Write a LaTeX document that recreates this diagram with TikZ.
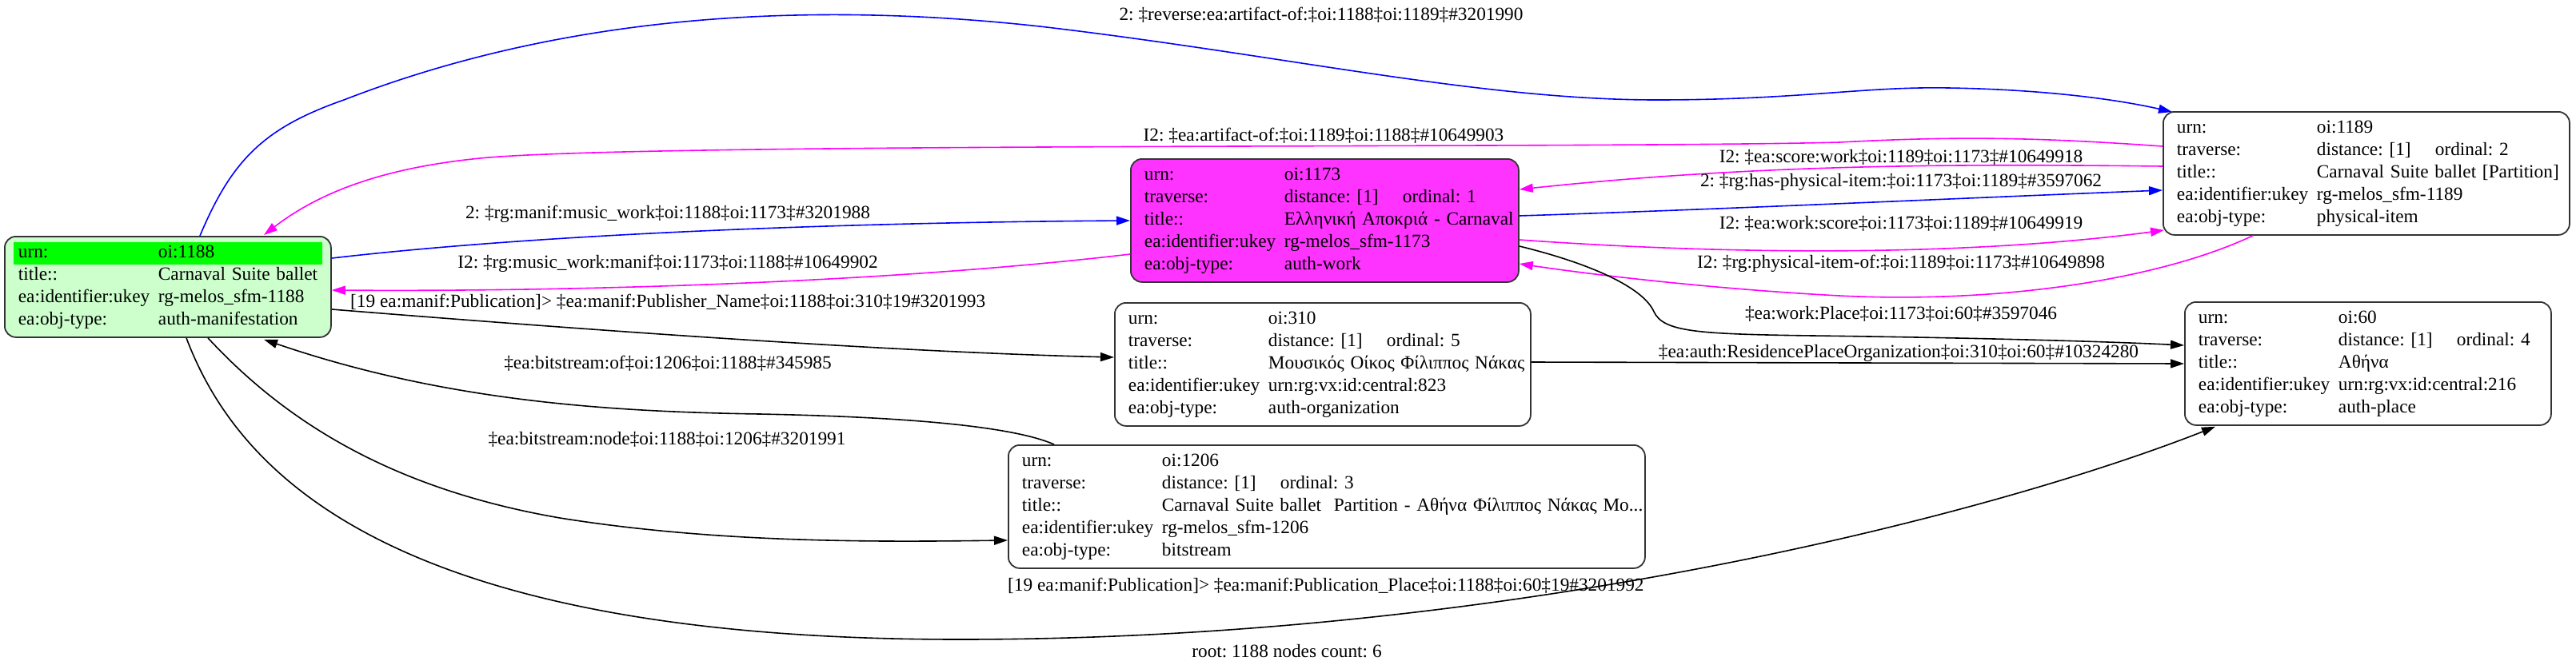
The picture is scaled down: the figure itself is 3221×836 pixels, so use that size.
\PassOptionsToPackage{table}{xcolor}
\documentclass[tikz,border=0pt]{standalone}
\usepackage{fontspec}
\setmainfont{Liberation Serif}
\usetikzlibrary{arrows.meta,calc}
\definecolor{mag}{HTML}{FF00FF}
\definecolor{blu}{HTML}{0000FF}
\definecolor{workfill}{HTML}{FF33FF}
\definecolor{manfill}{HTML}{CCFFCC}
\definecolor{hl}{HTML}{00FF00}
\frenchspacing
\newcommand{\fs}{\fontsize{23.3}{28}\selectfont\frenchspacing}
\newcommand{\dist}[1]{\makebox[148pt][l]{distance: [1]}ordinal: #1}
\begin{document}
\begin{tikzpicture}[x=1pt,y=-1pt,
  rec/.style={draw=black!80, line width=1.8pt, rounded corners=14pt, inner xsep=17pt, inner ysep=7pt, anchor=north west, align=left, font=\fs},
  lbl/.style={font=\fs, inner sep=0pt},
  edge/.style={line width=1.6pt, -{Triangle[length=17pt,width=11pt]}},
]
\useasboundingbox (0,0) rectangle (3221,836);

% ---------- nodes ----------
\node[rec, fill=manfill, text width=374pt] (n1188) at (5,295) {%
\begin{tabular}{@{}p{175pt}@{}l@{}}
\rowcolor{hl}urn: & oi:1188\\
title:: & Carnaval Suite ballet\\
ea:identifier:ukey & rg-melos\_sfm-1188\\
ea:obj-type: & auth-manifestation
\end{tabular}};

\node[rec, fill=workfill, text width=451pt] (n1173) at (1413,198) {%
\begin{tabular}{@{}p{175pt}@{}l@{}}
urn: & oi:1173\\
traverse: & \dist{1}\\
title:: & Ελληνική Αποκριά - Carnaval\\
ea:identifier:ukey & rg-melos\_sfm-1173\\
ea:obj-type: & auth-work
\end{tabular}};

\node[rec, fill=white, text width=474pt] (n1189) at (2704,139) {%
\begin{tabular}{@{}p{175pt}@{}l@{}}
urn: & oi:1189\\
traverse: & \dist{2}\\
title:: & Carnaval Suite ballet [Partition]\\
ea:identifier:ukey & rg-melos\_sfm-1189\\
ea:obj-type: & physical-item
\end{tabular}};

\node[rec, fill=white, text width=486pt] (n310) at (1393,378) {%
\begin{tabular}{@{}p{175pt}@{}l@{}}
urn: & oi:310\\
traverse: & \dist{5}\\
title:: & Μουσικός Οίκος Φίλιππος Νάκας\\
ea:identifier:ukey & urn:rg:vx:id:central:823\\
ea:obj-type: & auth-organization
\end{tabular}};

\node[rec, fill=white, text width=762pt] (n1206) at (1260,556) {%
\begin{tabular}{@{}p{175pt}@{}l@{}}
urn: & oi:1206\\
traverse: & \dist{3}\\
title:: & Carnaval Suite ballet~ Partition - Αθήνα Φίλιππος Νάκας Mo...\\
ea:identifier:ukey & rg-melos\_sfm-1206\\
ea:obj-type: & bitstream
\end{tabular}};

\node[rec, fill=white, text width=424pt] (n60) at (2731,377) {%
\begin{tabular}{@{}p{175pt}@{}l@{}}
urn: & oi:60\\
traverse: & \dist{4}\\
title:: & Αθήνα\\
ea:identifier:ukey & urn:rg:vx:id:central:216\\
ea:obj-type: & auth-place
\end{tabular}};

% ---------- edges ----------
% E1 blue reverse artifact-of
\draw[edge, blu] ($(n1188.north west)+(245,0)$) .. controls (290,200) and (330,160) .. (430,125)
  .. controls (700,20) and (1000,0) .. (1300,33)
  .. controls (1600,68) and (1850,125) .. (2071,125)
  .. controls (2250,125) and (2330,108) .. (2436,110)
  .. controls (2560,112) and (2650,125) .. ($(n1189.north west)+(12,1)$);
% E2 magenta artifact-of
\draw[edge, mag] ($(n1189.north west)+(0,44)$) .. controls (2550,172) and (2450,170) .. (2300,178)
  .. controls (2000,186) and (800,178) .. (600,198)
  .. controls (480,210) and (400,240) .. ($(n1188.north west)+(325,-1)$);
% E3 blue manif:music_work
\draw[edge, blu] ($(n1188.north east)+(0,28)$) .. controls (700,290) and (1100,278) .. ($(n1173.north west)+(0,78)$);
% E4 magenta music_work:manif
\draw[edge, mag] ($(n1173.north west)+(0,120)$) .. controls (1100,355) and (700,365) .. ($(n1188.north east)+(0,68)$);
% E5 black publisher name
\draw[edge] ($(n1188.north east)+(0,92)$) .. controls (700,410) and (1100,440) .. ($(n310.north west)+(0,69)$);
% E6 black bitstream:of
\draw[edge] ($(n1206.north west)+(58,0)$) .. controls (1270,535) and (1150,522) .. (950,518)
  .. controls (750,515) and (550,500) .. ($(n1188.south west)+(325,2)$);
% E7 black bitstream:node
\draw[edge] ($(n1188.south west)+(255,0)$) .. controls (350,520) and (480,610) .. (700,648)
  .. controls (900,680) and (1100,678) .. ($(n1206.north west)+(0,120)$);
% E8 black publication place
\draw[edge] ($(n1188.south west)+(228,0)$) .. controls (300,600) and (500,800) .. (1200,800)
  .. controls (1900,800) and (2500,640) .. ($(n60.south west)+(39,1)$);
% E9 blue has-physical-item
\draw[edge, blu] ($(n1173.north east)+(0,72)$) .. controls (2150,262) and (2450,248) .. ($(n1189.north west)+(0,99)$);
% E10 magenta score:work
\draw[edge, mag] ($(n1189.north west)+(0,69)$) .. controls (2450,205) and (2200,205) .. ($(n1173.north east)+(0,39)$);
% E11 magenta work:score
\draw[edge, mag] ($(n1173.north east)+(0,102)$) .. controls (2150,318) and (2450,322) .. ($(n1189.north west)+(2,149)$);
% E12 magenta physical-item-of
\draw[edge, mag] ($(n1189.south west)+(113,0)$) .. controls (2700,350) and (2500,380) .. (2300,370)
  .. controls (2150,362) and (2000,345) .. ($(n1173.north east)+(0,132)$);
% E13 black work:Place
\draw[edge] ($(n1173.north east)+(0,110)$) .. controls (1990,330) and (2055,360) .. (2068,390)
  .. controls (2080,415) and (2120,418) .. (2267,420)
  .. controls (2500,423) and (2650,428) .. ($(n60.north west)+(0,55)$);
% E14 black residence place
\draw[edge] ($(n310.north east)+(0,75)$) -- ($(n60.north west)+(0,78)$);

% ---------- labels ----------
\node[lbl] (l1) at (1652,19) {2: ‡reverse:ea:artifact-of:‡oi:1188‡oi:1189‡\#3201990};
\node[lbl] (l2) at (1655,170) {I2: ‡ea:artifact-of:‡oi:1189‡oi:1188‡\#10649903};
\node[lbl] (l3) at (835,268) {2: ‡rg:manif:music\_work‡oi:1188‡oi:1173‡\#3201988};
\node[lbl] (l4) at (835,330) {I2: ‡rg:music\_work:manif‡oi:1173‡oi:1188‡\#10649902};
\node[lbl, anchor=west] (l5) at (438,378) {[19 ea:manif:Publication]> ‡ea:manif:Publisher\_Name‡oi:1188‡oi:310‡19\#3201993};
\node[lbl] (l6) at (835,455) {‡ea:bitstream:of‡oi:1206‡oi:1188‡\#345985};
\node[lbl] (l7) at (834,550) {‡ea:bitstream:node‡oi:1188‡oi:1206‡\#3201991};
\node[lbl, anchor=west] (l8) at (1260,733) {[19 ea:manif:Publication]> ‡ea:manif:Publication\_Place‡oi:1188‡oi:60‡19\#3201992};
\node[lbl] (l9) at (2377,197) {I2: ‡ea:score:work‡oi:1189‡oi:1173‡\#10649918};
\node[lbl] (l10) at (2377,228) {2: ‡rg:has-physical-item:‡oi:1173‡oi:1189‡\#3597062};
\node[lbl] (l11) at (2377,280) {I2: ‡ea:work:score‡oi:1173‡oi:1189‡\#10649919};
\node[lbl] (l12) at (2377,330) {I2: ‡rg:physical-item-of:‡oi:1189‡oi:1173‡\#10649898};
\node[lbl] (l13) at (2377,393) {‡ea:work:Place‡oi:1173‡oi:60‡\#3597046};
\node[lbl] (l14) at (2374,442) {‡ea:auth:ResidencePlaceOrganization‡oi:310‡oi:60‡\#10324280};
\node[lbl] (root) at (1609,815) {root: 1188 nodes count: 6};
\end{tikzpicture}
\end{document}
